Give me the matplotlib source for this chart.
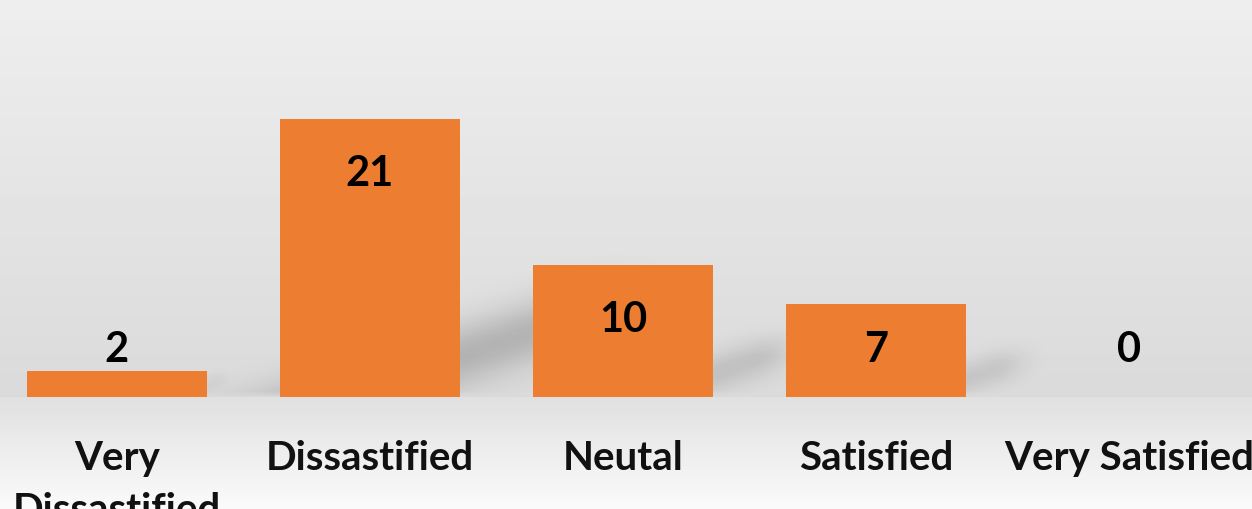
import numpy as np
import matplotlib.pyplot as plt

# datos del grafico
categorias = ['Very\nDissastified', 'Dissastified', 'Neutal', 'Satisfied', 'Very Satisfied']
valores = [2, 21, 10, 7, 0]

naranja = '#ED7D31'
fuente = ['Lato', 'DejaVu Sans']

W, H = 1252, 510
x0, x1 = -0.462, 4.486
y0, y1 = -8.46, 30.06
ancho = 0.71

fig = plt.figure(figsize=(W / 100, H / 100), dpi=100)
ax = fig.add_axes([0, 0, 1, 1])
ax.set_xlim(x0, x1)
ax.set_ylim(y0, y1)
ax.axis('off')


def a_px(xd, yd):
    # datos -> pixeles (origen arriba a la izquierda)
    px = (xd - x0) / (x1 - x0) * W
    py = (y1 - yd) / (y1 - y0) * H
    return px, py


_, yb = a_px(0, 0)

# fondo degradado (oscuro cerca de la base, claro arriba y abajo)
filas = np.arange(H)[:, None] + 0.5
fondo = np.where(filas < yb,
                 238 - 20 * filas / yb,
                 224 + 26 * (filas - yb) / (H - yb))
fondo = fondo / 255.0
ax.imshow(np.repeat(fondo, 4, axis=1), cmap='gray', vmin=0, vmax=1,
          aspect='auto', extent=[x0, x1, y0, y1], origin='upper', zorder=0)

x = np.arange(len(categorias))

# sombras difusas en perspectiva a la derecha de las barras
gx, gy = np.meshgrid(np.arange(W) + 0.5, filas[:, 0])
alfa = np.zeros((H, W))
u = np.array([1.0, -1 / 3.0])
u /= np.linalg.norm(u)
n = np.array([-u[1], u[0]])
for xi, v in zip(x, valores):
    if v <= 0:
        continue
    xr, _ = a_px(xi + ancho / 2, 0)
    _, yt = a_px(0, v)
    hp = yb - yt
    p0x, p0y = xr - 10, yb - 0.12 * hp - 4
    largo = 0.35 * hp + 8
    t = 0.055 * hp + 6
    pico = 0.19 * min(1.0, hp / 278) ** 0.6
    dx, dy = gx - p0x, gy - p0y
    along = dx * u[0] + dy * u[1]
    perp = dx * n[0] + dy * n[1]
    a = pico * np.exp(-0.5 * (perp / t) ** 2)
    fin = np.where(along > largo, np.exp(-0.5 * ((along - largo) / (0.15 * hp + 8)) ** 2), 1.0)
    alfa = np.maximum(alfa, a * fin)
# desvanecer la sombra justo encima de la base
alfa *= np.clip((yb - gy) / 6.0, 0, 1)
sombra = np.zeros((H, W, 4))
sombra[..., 3] = alfa
ax.imshow(sombra, aspect='auto', extent=[x0, x1, y0, y1], origin='upper', zorder=1)

ax.bar(x, valores, width=ancho, color=naranja, zorder=2)

# etiquetas de valores
for xi, v in zip(x, valores):
    y = max(v - 4.08, 3.63)
    ax.text(xi, y, str(v), ha='center', va='center', fontsize=30,
            fontweight='bold', family=fuente, color='black', zorder=3)

# etiquetas de categorias
for xi, c in zip(x, categorias):
    ax.text(xi, -3.2, c, ha='center', va='top', fontsize=29,
            fontweight='bold', family=fuente, color='#111111',
            linespacing=1.5, zorder=3)

plt.savefig('out.png', dpi=100)
plt.close()
